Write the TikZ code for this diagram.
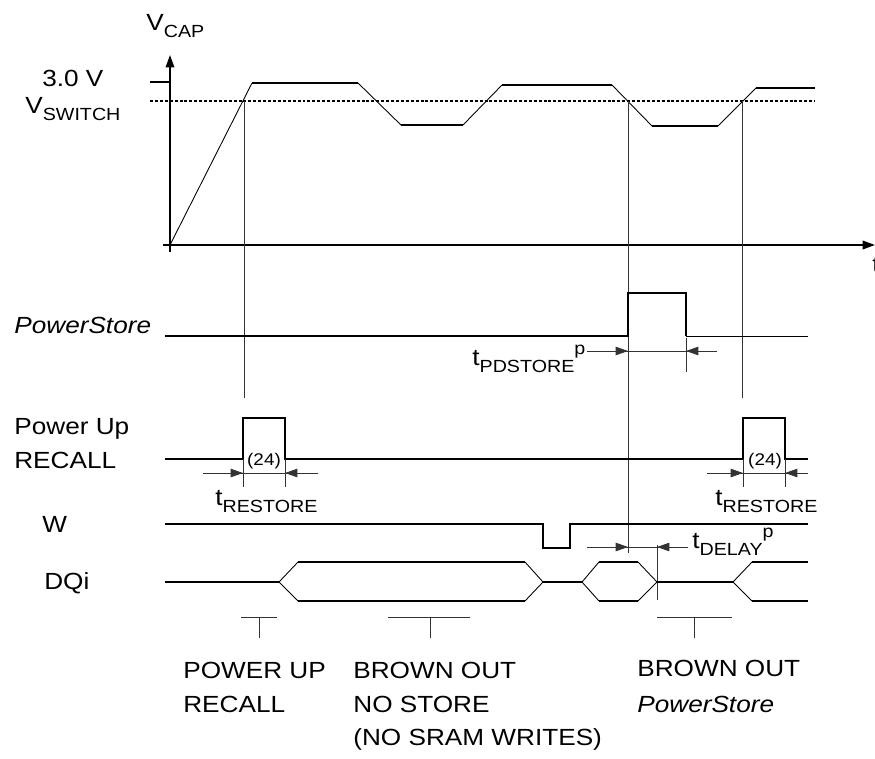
\documentclass[tikz,border=0pt]{standalone}
\usepackage{fontspec}
\setmainfont{Liberation Sans}[FakeStretch=1.12]
\usetikzlibrary{arrows.meta}
\newcommand{\lowtxt}[1]{\raisebox{-0.3em}{\fontsize{10}{10}\selectfont #1}}
\newcommand{\hightxt}[1]{\raisebox{0.45em}{\fontsize{10}{10}\selectfont #1}}
\begin{document}
\begin{tikzpicture}[x=0.02cm, y=-0.02cm, >={Triangle[length=7pt,width=4.8pt]},
  sig/.style={line width=1.1pt},
  slope/.style={line width=0.5pt},
  guide/.style={line width=0.5pt, black!80},
  lbl/.style={inner sep=0pt, anchor=base west, font=\fontsize{13.3}{15}\selectfont},
  small/.style={inner sep=0pt, anchor=base, font=\fontsize{9.6}{11}\selectfont}]
\useasboundingbox (0,0) rectangle (875,758);
% axes
\draw[sig,->](170,252)--(170,55);
\draw[sig,->](163,245)--(875,245);
\node[lbl] (tax) at (872,272) {t};
\node[lbl] (vcap) at (146,30) {V\lowtxt{CAP}};
\node[lbl] (vtop) at (42,86) {3.0 V};
\node[lbl] (vsw) at (25,113) {V\lowtxt{SWITCH}};
\draw[sig](150,82)--(170,82);
\draw[line width=1.3pt, dash pattern=on 1.7pt off 1.1pt](150,101)--(815,101);
% V_CAP curve
\draw[slope](170,245)--(252,83);
\draw[sig](252,83)--(358,83);
\draw[slope](358,83)--(401,125);
\draw[sig](401,125)--(463,125);
\draw[slope](463,125)--(502,85);
\draw[sig](502,85)--(612,85);
\draw[slope](612,85)--(652,126);
\draw[sig](652,126)--(718,126);
\draw[slope](718,126)--(756,88);
\draw[sig](756,88)--(815,88);
% crossing markers
\foreach \x/\y in {244/398, 628/553, 742/398}
{
    \draw[guide](\x,101)--(\x,\y);
}
% PowerStore
\node[lbl] (pstore) at (14,333) {\itshape PowerStore};
\draw[sig](165,336)--(628,336)--(628,293)--(686,293)--(686,336);
\draw[slope](686,336)--(808,336);
\draw[guide](587,351)--(717,351);
\draw[guide,->](587,351)--(628,351);
\draw[guide,->](717,351)--(686,351);
\draw[guide](686,338)--(686,372);
\node[lbl] (tpd) at (472,365) {t\lowtxt{PDSTORE}\hightxt{p}};
% Power Up RECALL
\node[lbl] (pup) at (14,434) {Power Up};
\node[lbl] (rcl) at (14,468) {RECALL};
\draw[sig](165,459)--(243,459)--(243,418)--(285,418)--(285,459)--(743,459)--(743,418)--(785,418)--(785,459)--(808,459);
\foreach \a/\b/\c/\d in {203/243/285/318, 707/743/785/808}
{
    \draw[guide](\a,473)--(\d,473);
    \draw[guide,->](\a,473)--(\b,473);
    \draw[guide,->](\d,473)--(\c,473);
    \draw[guide](\b,459)--(\b,487);
    \draw[guide](\c,459)--(\c,487);
}
\node[small] (rst1) at (264,465) {(24)};
\node[small] (rst2) at (765,465) {(24)};
\node[lbl] (trs1) at (215,505) {t\lowtxt{RESTORE}};
\node[lbl] (trs2) at (715,505) {t\lowtxt{RESTORE}};
% W
\node[lbl] (w) at (42,532) {W};
\draw[sig](165,524)--(543,524)--(543,548)--(570,548)--(570,524)--(808,524);
\draw[guide](587,547)--(688,547);
\draw[guide,->](587,547)--(628,547);
\draw[guide,->](688,547)--(657,547);
\draw[guide](657,545)--(657,600);
\node[lbl] (tdl) at (692,548) {t\lowtxt{DELAY}\hightxt{p}};
% DQi
\node[lbl] (dq) at (44,589) {DQi};
\draw[sig](165,582)--(279,582);
\draw[slope](279,582)--(298,562);
\draw[slope](279,582)--(298,601);
\draw[sig](298,562)--(525,562);
\draw[sig](298,601)--(525,601);
\draw[slope](525,562)--(543,582)--(525,601);
\draw[sig](543,582)--(582,582);
\draw[slope](599,562)--(582,582)--(599,601);
\draw[sig](599,562)--(638,562);
\draw[sig](599,601)--(638,601);
\draw[slope](638,562)--(657,582)--(638,601);
\draw[sig](657,582)--(733,582);
\draw[slope](752,562)--(733,582)--(752,601);
\draw[sig](752,562)--(808,562);
\draw[sig](752,601)--(808,601);
% phase markers
\foreach \a/\m/\b in {241/259/277, 388/430/470, 657/694/732}
{
    \draw[guide](\a,617)--(\b,617);
    \draw[guide](\m,617)--(\m,638);
}
\node[lbl] (ph1a) at (183,678) {POWER UP};
\node[lbl] (ph1b) at (183,712) {RECALL};
\node[lbl] (ph2a) at (353,678) {BROWN OUT};
\node[lbl] (ph2b) at (353,712) {NO STORE};
\node[lbl] (ph2c) at (353,745) {(NO SRAM WRITES)};
\node[lbl] (ph3a) at (637,676) {BROWN OUT};
\node[lbl] (ph3b) at (637,712) {\itshape PowerStore};
\end{tikzpicture}
\end{document}
